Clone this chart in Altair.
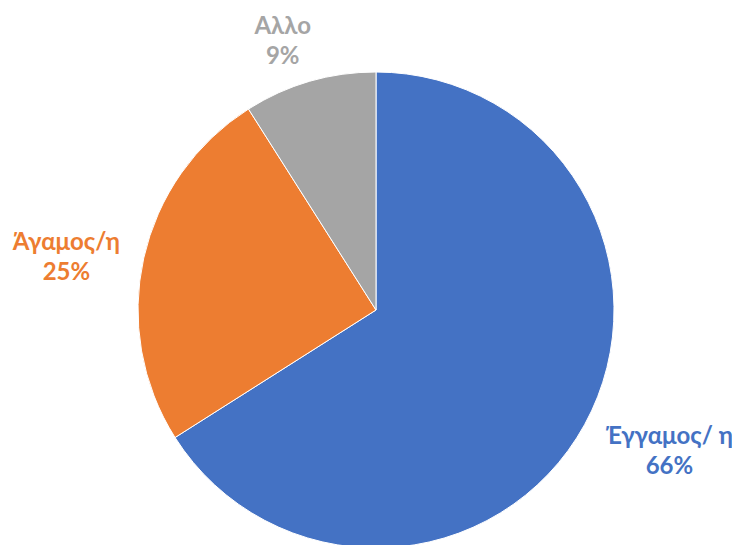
import altair as alt
import pandas as pd
import math

categories = ["Έγγαμος/ η", "Άγαμος/η", "Αλλο"]
values = [66, 25, 9]
colors = ["#4472C4", "#ED7D31", "#A5A5A5"]

df = pd.DataFrame({"cat": categories, "val": values, "order": [0, 1, 2]})
df["label"] = [f"{c}\n{v}%" for c, v in zip(categories, values)]

color = alt.Color("cat:N", scale=alt.Scale(domain=categories, range=colors), legend=None)

pie = alt.Chart(df).mark_arc(stroke="white", strokeWidth=1).encode(
    theta=alt.Theta("val:Q", stack=True),
    order=alt.Order("order:Q"),
    color=color,
    x=alt.value(376), y=alt.value(310), radius=alt.value(238),
)

shift = 0.052
text = alt.Chart(df).transform_window(
    cum="sum(val)", sort=[alt.SortField("order")]
).transform_calculate(
    mid="datum.cum - datum.val / 2",
    r="datum.cat == 'Αλλο' ? 284 : (datum.cat == 'Άγαμος/η' ? 314 : 326)",
).mark_text(
    font="Lato", fontSize=24, fontWeight="bold", lineBreak="\n", lineHeight=30,
    align="center", baseline="middle", dy=-15
).encode(
    theta=alt.Theta("mid:Q", stack=False,
                    scale=alt.Scale(domain=[0, 100], range=[-shift, 2 * math.pi - shift])),
    color=color,
    x=alt.value(376), y=alt.value(310),
    radius=alt.Radius("r:Q", scale=None),
    text="label:N",
)

chart = alt.layer(pie, text).resolve_scale(theta="independent").properties(
    width=732, height=545, autosize=alt.AutoSizeParams(type="none"), padding=0
).configure_view(stroke=None)

chart.save("out.html", embed_options={"renderer": "svg", "actions": False})
